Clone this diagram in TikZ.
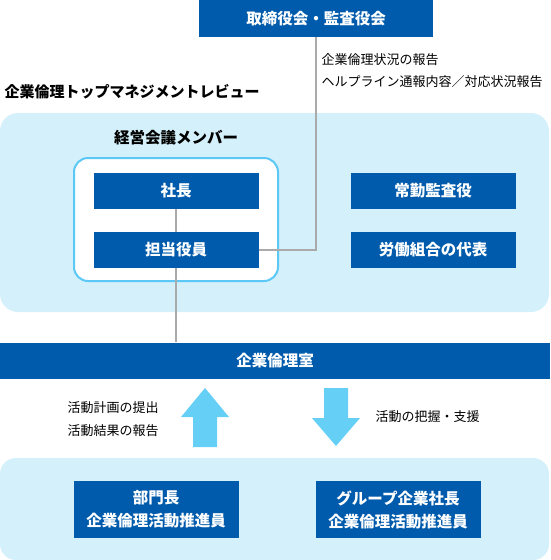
\documentclass[tikz,border=0pt]{standalone}
\usepackage{fontspec}
\setmainfont{Noto Sans CJK JP}
\usetikzlibrary{positioning,arrows,calc,shapes}
\definecolor{dblue}{HTML}{005BAC}
\definecolor{pale}{HTML}{D4F0FB}
\definecolor{rim}{HTML}{5BC8F5}
\definecolor{arrowblue}{HTML}{66CFF6}
\definecolor{wire}{HTML}{AAAAAA}
\begin{document}
\begin{tikzpicture}[x=1pt, y=-1pt,
    box/.style = {fill=dblue, text=white, inner sep=0pt, align=center,
                  font=\bfseries\fontsize{15.5}{23}\selectfont},
    small/.style = {minimum width=165pt, minimum height=36pt},
    big/.style = {minimum width=165pt, minimum height=57pt},
    note/.style = {anchor=west, font=\fontsize{13}{16}\selectfont},
    heading/.style = {anchor=west, font=\bfseries\fontsize{15}{18}\selectfont},
    fat/.style = {fill=arrowblue, draw=none}]
  \useasboundingbox (0,0) rectangle (550,560);

  \fill[pale, rounded corners=18pt] (0,113) rectangle (549,312);
  \fill[pale, rounded corners=16pt] (0,458) rectangle (549,560);
  \draw[rim, line width=2pt, fill=white, rounded corners=14pt] (74,158) rectangle (278,281);

  \node[box, minimum width=234pt, minimum height=37pt] at (316,18.5) (board) {取締役会・監査役会};
  \node[note] at (318,60) (rep1) {企業倫理状況の報告};
  \node[note] at (318,82) (rep2) {ヘルプライン通報内容／対応状況報告};
  \node[heading] at (1,92) (review) {企業倫理トップマネジメントレビュー};
  \node[font=\bfseries\fontsize{15.5}{18}\selectfont] at (176,138) (members) {経営会議メンバー};

  \node[box, small] at (176,191) (ceo) {社長};
  \node[box, small] at (176,250) (officer) {担当役員};
  \node[box, small] at (433,191) (auditor) {常勤監査役};
  \node[box, small] at (433,250) (union) {労働組合の代表};

  \node[box, minimum width=550pt, minimum height=36pt] at (275,360.5) (office) {企業倫理室};

  \node[box, big] at (156,509.5) (dept) {部門長\\企業倫理活動推進員};
  \node[box, big] at (398,509.5) (group) {グループ企業社長\\企業倫理活動推進員};

  \coordinate (bend) at (316,250);
  \draw[wire, line width=1.5pt] (board.south -| bend) -- (bend) -- (officer.east);
  \draw[wire, line width=1.5pt] (ceo) -- (officer);
  \draw[wire, line width=1.5pt] (officer) -- (officer |- office.north);

  \fill[fat] (205,388) -- (229,417) -- (217,417) -- (217,447) -- (193,447) -- (193,417) -- (181,417) -- cycle;
  \fill[fat] (336,446) -- (360,418) -- (348,418) -- (348,388) -- (324,388) -- (324,418) -- (312,418) -- cycle;

  \node[note] at (64,408) (plan) {活動計画の提出};
  \node[note] at (64,431) (result) {活動結果の報告};
  \node[note] at (372,417) (support) {活動の把握・支援};
\end{tikzpicture}
\end{document}
